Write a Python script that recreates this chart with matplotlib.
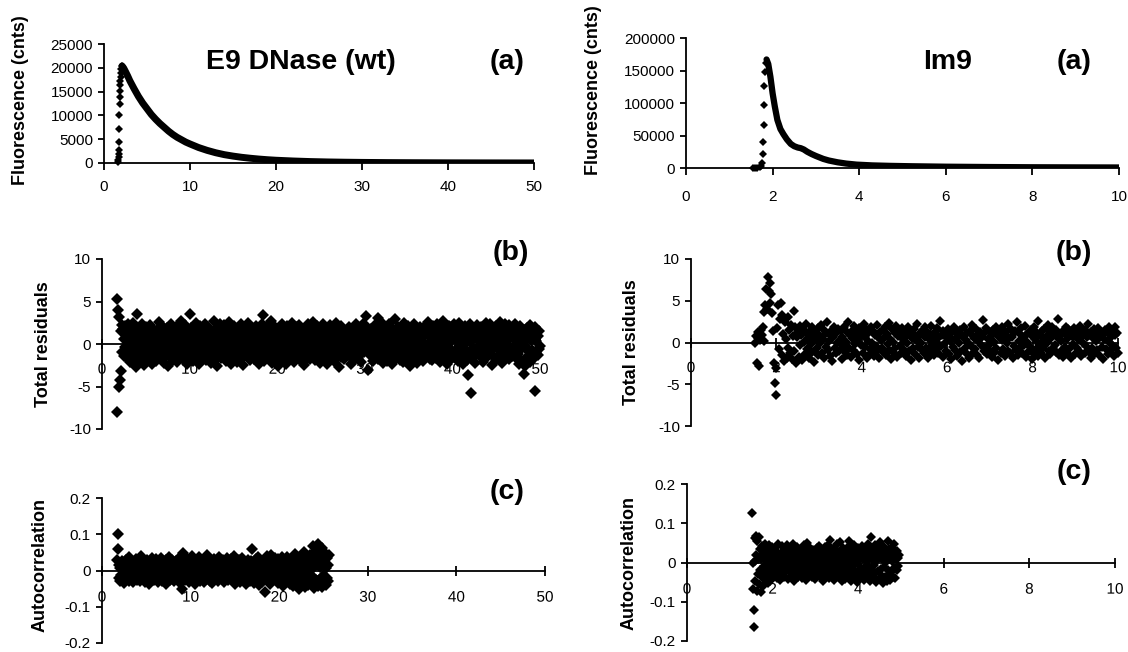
import numpy as np
import matplotlib
matplotlib.use("Agg")
import matplotlib.pyplot as plt
import matplotlib.patheffects as pe

plt.rcParams["font.family"] = ["Liberation Sans", "DejaVu Sans"]
plt.rcParams["axes.unicode_minus"] = False

# ---- E9 DNase (wt): fluorescence decay (time in ns, counts) ----
e9_rise_t = [1.66, 1.68, 1.70, 1.72, 1.74, 1.76, 1.78, 1.80, 1.82, 1.84, 1.86, 1.88, 1.90, 1.93, 1.96, 2.00, 2.05]
e9_rise_counts = [140, 560, 1190, 1950, 2800, 4330, 7120, 10050, 12430, 13960, 15200, 16300, 17300,
                  18150, 19000, 19700, 20300]
e9_decay_t = [2.1, 2.3, 2.5, 2.75, 3.0, 3.5, 4.0, 4.5, 5.0, 5.5, 6.0, 6.5, 7.0, 7.5, 8.0, 8.5, 9.0, 9.5,
              10, 11, 12, 13, 14, 15, 16, 17, 18, 19, 20, 22, 24, 26, 28, 30, 33, 36, 40, 45, 50]
e9_decay_counts = [20400, 19900, 19200, 18300, 17300, 15600, 14000, 12600, 11400, 10200, 9200, 8300,
                   7500, 6700, 6000, 5400, 4900, 4400, 4000, 3250, 2650, 2150, 1750, 1450, 1200, 1000,
                   830, 690, 580, 420, 300, 220, 165, 125, 85, 60, 38, 22, 12]

# ---- Im9: fluorescence decay ----
im9_rise_t = [1.55, 1.60, 1.65, 1.70, 1.74, 1.76, 1.77, 1.78, 1.79, 1.80, 1.81, 1.82, 1.84]
im9_rise_counts = [0, 0, 500, 1500, 3500, 7300, 21800, 40000, 66000, 97000, 125700, 147500, 162000]
im9_decay_t = [1.86, 1.9, 1.95, 2.0, 2.05, 2.11, 2.18, 2.25, 2.33, 2.42, 2.5, 2.58, 2.65, 2.72, 2.8,
               2.9, 3.0, 3.17, 3.3, 3.5, 3.7, 3.94, 4.3, 4.7, 5.2, 6, 7, 8, 9, 10]
im9_decay_counts = [167000, 160000, 140000, 115000, 95000, 74000, 60000, 52000, 44000, 37000, 33500,
                    31500, 30500, 28500, 25000, 21500, 18500, 14000, 11500, 8800, 6800, 5200, 4000,
                    3300, 2700, 2000, 1500, 1150, 950, 800]

# ---- weighted residuals (tenths), channels from start to end time ----
e9_resid_span = (1.7, 50.0)
e9_resid = [
    53, -80, 40, -50, 32, -42, -32, 15, 22, -9, 18, -14, 6, 21, -3, 11, -17, 8, 24, -6, 13, -21, 2, 16, -11,
    7, -19, 25, -4, 12, -8, 19, -27, 35, 3, -13, 9, -22, 14, 0, 17, -7, 23, -16, 5, -25, 10, -2, 20, -12,
    4, 15, -18, 8, -5, 22, -10, 13, -24, 1, 18, -15, 6, -1, 11, -20, 16, -7, 9, 26, -13, 3, -9, 14, -17,
    21, -4, 7, -22, 12, 0, -14, 19, -6, 10, -26, 17, 2, -11, 24, -8, 5, -19, 15, -3, 8, -16, 20, -10, 1,
    -21, 13, 6, -7, 18, -13, 27, -2, 11, -18, 4, 16, -9, 22, -5, 9, -23, 14, 0, -12, 35, -15, 7, 19, -6,
    12, -20, 3, 17, -10, 25, -1, -14, 10, 6, -24, 15, -4, 21, -8, 2, 18, -17, 11, -2, 23, -11, 5, -19, 13,
    -7, 20, 0, -15, 9, 16, -22, 4, 12, -9, 27, -5, 14, -18, 7, -26, 19, -3, 10, -13, 24, 1, -16, 8, 15,
    -11, 3, 22, -6, 17, -20, 11, -1, 6, -14, 26, -8, 13, 2, -23, 18, -4, 9, -17, 21, -10, 15, -2, 5, -21,
    14, -12, 19, -5, 8, 23, -16, 1, 12, -25, 16, -7, 4, 20, -13, 10, -3, 25, -9, 7, -19, 13, 0, 17, -15,
    -8, 11, -18, 6, 21, -4, 15, -11, 2, -24, 18, -6, 9, -15, 23, -1, 12, 34, -20, 7, 16, -10, 3, -17, 22,
    -5, 13, -13, 8, 27, -9, 4, -22, 17, -2, 10, -16, 20, 1, -7, 14, -26, 9, -12, 19, -4, 6, 24, -14, 11,
    -19, 3, 16, -8, 12, -23, 21, -3, 7, -11, 18, 0, -17, 13, -6, 25, -10, 5, -21, 15, 2, -13, 20, -5, 9,
    -15, 22, -1, 11, -20, 6, 17, -9, 14, -25, 3, 19, -12, 8, -4, 23, -16, 10, 1, -18, 16, -7, 12, -2, 26,
    -11, 5, -19, 18, -6, 9, 21, -14, 2, 15, -22, 12, -3, 7, -17, 24, -8, 13, -1, 20, -13, 4, -24, 17, -10,
    10, -4, 22, -16, 6, 14, -9, 1, 19, -20, 11, -6, 25, -12, 3, 16, -2, -27, 8, 13, -15, 21, -7, 5, 18,
    -18, 12, -1, 9, 15, -10, 15, -10, 4, 20, -14, 7, -23, 17, -5, 11, 2, -19, 14, -8, 23, -3, 10, -16, 6,
    19, -12, 3, 16, -21, 8, -4, 24, -9, 13, 0, 33, 21, -6, 10, -30, 15, 1, -13, 7, 18, -10, 5, -20, 12,
    -2, 22, -15, 9, 14, -7, 31, -18, 4, 17, -11, 26, -3, 8, -22, 13, -5, 19, -14, 2, 11, -20, 16, -8, 6,
    23, -13, 10, -1, 18, -24, 7, 15, -9, 3, 29, -16, 12, -6, 20, -11, 5, -19, 17, 0, -4, 14, -21, 9, 25,
    -10, 6, 16, -18, 11, -3, 21, -14, 2, 13, -26, 8, 19, -7, 4, -17, 24, -12, 15, -1, 10, -22, 18, -5, 7,
    -15, 20, -8, 12, 3, -20, 17, -2, 9, -12, 22, -13, 14, -6, 26, -10, 1, 16, -18, 11, -19, 6, 21, -4, 13,
    -9, 18, -16, 7, 24, -11, 2, 15, -21, 10, -5, 19, -13, 4, 27, -8, 12, -18, 1, 16, -24, 9, -3, 21, -10,
    14, -6, 20, -17, 5, 11, -15, 23, -8, 8, 17, -12, 3, -20, 13, -2, 25, -9, 6, 18, -14, 10, -23, 15, 0,
    21, -7, 12, -19, 4, -37, 16, -11, 24, 2, -58, 9, -16, 19, -5, 11, -22, 7, 14, -13, 22, -3, 17, -9, 5,
    -14, 8, 20, -6, 13, -21, 3, 16, -10, 25, -17, 10, -1, 18, -12, 6, 23, -8, 11, -25, 15, -4, 19, -15, 2,
    12, -19, 21, -5, 9, 16, -13, 4, 26, -9, 14, -22, 7, 19, -2, 11, -16, 23, -7, 3, 17, -11, 22, -18, 8,
    -3, 15, -14, 10, 20, -8, 6, -8, 24, -17, 13, 1, -12, 18, -24, 9, 21, -6, 14, -20, 4, 17, -35, 11, -26,
    16, -4, 19, -15, 7, 13, -9, 22, -21, 5, 18, -7, 10, -18, 14, -55, 20, -11, 3, 17, -13, 9, -6, 15, -2,
]

im9_resid_span = (1.5, 10.0)
im9_resid = [
    0, 8, -25, 5, 12, -28, 3, 15, 9, 18, 2, 36, 45, 64, 40, 78, 62, 71, 47, 58, 35, 14, -25, -48, -63,
    -30, 17, 45, -8, 28, 47, -15, 33, 10, -22, 25, 4, -18, 30, -6, 15, -12, 21, -20, 8, 38, -10, 19, -24, 6,
    13, -17, 20, -3, 9, -21, 16, 1, -14, 11, 22, -8, 5, -19, 14, -2, 18, -11, 7, -23, 12, 3, -6, 17, -15,
    9, -1, 21, -12, 4, 15, -18, 10, -5, 25, -9, 2, 13, -16, 8, -22, 6, 19, -7, 11, -13, 0, 16, -10, 3,
    14, -20, 7, -4, 18, -11, 1, 12, -15, 24, -6, 9, -17, 5, 15, -9, 20, -2, 10, -14, 4, 17, -21, 8, -3,
    11, -13, 22, -5, 6, 16, -19, 2, 13, -8, 19, -12, 0, 14, -16, 9, -4, 21, -10, 7, -18, 12, 3, -7, 15,
    -11, 5, 18, -15, 10, -2, 23, -9, 4, -20, 16, 1, -13, 11, -6, 20, -17, 8, 13, -4, 6, -12, 17, -8, 2,
    12, -16, 9, -1, 19, -10, 14, -21, 5, 10, -7, 16, -14, 3, 22, -5, 8, -18, 11, 0, -9, 15, -13, 7, 18,
    -6, 13, -19, 4, 10, -11, 20, -3, 7, -15, 12, 1, -8, 17, -12, 6, 26, -4, 9, -17, 14, -2, 11, -10, 5,
    16, -14, 8, 2, -20, 12, -5, 18, -9, 4, 13, -16, 7, -1, 15, -11, 10, -22, 6, 19, -7, 3, -13, 11, 0,
    -18, 14, -4, 9, 21, -12, 5, -8, 16, -15, 10, 2, -19, 13, -3, 7, 27, -10, 11, -6, 17, -14, 4, -9, 12,
    -2, 8, -17, 15, 1, -11, 19, -6, 10, -21, 6, 14, -13, 3, 18, -8, 9, -16, 12, -1, 22, -10, 5, -12, 16,
    7, -19, 11, -4, 14, -9, 24, -15, 2, 10, -7, 17, -12, 6, -3, 20, -17, 9, 1, -11, 13, -5, 15, -20, 8,
    -13, 18, 4, -8, 11, -16, 26, -2, 9, -12, 14, -6, 3, 16, -18, 7, -1, 21, -10, 12, -14, 5, 19, -7, 10,
    -3, 15, -11, 6, 28, -15, 8, 2, -9, 13, -17, 11, -5, 18, -12, 4, 16, -8, 9, -19, 12, -2, 7, 17, -14,
    10, -6, 14, -10, 3, 20, -16, 8, -1, 12, -13, 15, -4, 6, 22, -11, 9, -18, 13, -7, 5, 16, -12, 2, 11,
    -9, 17, -15, 7, 13, -5, 10, -20, 4, 15, -8, 12, -14, 1, 19, -10, 6, -3, 14, -16, 9, 18, -6, 11, -12,
]

# ---- autocorrelation of residuals (thousandths) ----
e9_acf_span = (1.7, 25.6)
e9_acf = [
    28, 100, 60, 15, -22, 8, -30, 20, -12, 3, 25, -18, 10, -35, 14, -5, 30, -25, 6, -14, 22, -9, 38, -28, 12,
    -3, 18, -20, 7, 27, -33, 11, -8, 21, -16, 2, 32, -26, 13, -11, 24, -4, 9, -29, 17, 40, -19, 5, -13, 26,
    -7, 15, -31, 10, 19, -21, 1, 29, -15, 12, -36, 23, -6, 8, -24, 16, 35, -10, 4, -27, 20, -2, 13, -17, 31,
    -12, 6, -33, 25, 9, -20, 17, -5, 34, -28, 11, -14, 22, 3, -23, 14, -9, 28, -38, 18, 7, -16, 36, -1, 10,
    -25, 21, -11, 5, 30, -19, 13, -30, 19, 2, -13, 26, -22, 9, -6, 33, -17, 15, -34, 8, 24, -8, -50, 16, -15,
    48, -4, 11, -27, 22, 4, -18, 31, -10, 14, -32, 6, 27, -21, 17, -3, 39, -14, 10, -26, 20, 0, -37, 23, -9,
    12, -20, 29, -12, 5, 36, -29, 18, -7, 13, 25, -16, 8, -31, 21, -1, 30, -23, 15, -10, 44, -19, 7, -5, 17,
    -28, 24, -13, 10, -35, 19, 2, 32, -17, 12, -8, 27, -24, 6, 16, -30, 22, -4, 37, -15, 9, -21, 14, -11, 28,
    -2, 20, -33, 11, 26, -18, 7, -9, 34, -25, 15, -6, 23, -14, 3, 31, -27, 12, -19, 18, 41, -12, 8, -36, 24,
    -7, 16, -22, 9, 29, -16, 5, -31, 21, -3, 13, 35, -20, 10, -28, 25, -10, 17, -38, 14, 2, 30, -24, 19, -13,
    8, -29, 27, -6, 15, 58, -19, 11, -34, 22, 4, -14, 33, -26, 18, -9, 37, -40, 12, -17, 26, -4, 9, -32, 20,
    -11, 30, -23, 14, -60, 6, 24, -15, 39, -30, 10, -8, 28, -37, 19, -2, 42, -21, 13, -27, 21, -12, 7, 34, -18,
    16, -25, 5, 31, -35, 11, -5, 25, -28, 18, -13, 38, -42, 9, 22, -19, 3, 29, -33, 14, -9, 36, -24, 8, -16,
    27, -38, 13, -4, 33, -22, 17, -44, 10, 24, -11, 45, -30, 6, -20, 32, -14, 19, -52, 11, 28, -27, 15, -7, 40,
    -33, 20, -17, 50, -45, 12, 26, -24, 8, 35, -40, 16, -9, 44, -28, 22, -36, 5, 30, -18, 68, -47, 14, 38, -25,
    55, -30, 18, -42, 72, 25, -38, 10, 46, -20, 32, -45, 62, -15, 28, -35, 20, 48, -40, 8, -22, 35, -28, 15, 42,
]

im9_acf_span = (1.52, 4.95)
im9_acf = [
    127, 0, -67, -120, -165, 5, 62, -48, 68, 20, -72, 55, -30, 10, 65, -55, 35, -20, -75, 8, 42, -38, 25, -60, 15,
    -10, 48, -45, 30, -25, 5, 38, -52, 18, -8, 45, -35, 22, -15, 2, 40, -42, 12, 28, -30, 8, -20, 35, -5, 15,
    -40, 25, -12, 48, -28, 10, -45, 20, 3, -18, 42, -32, 14, 30, -8, -38, 22, 6, -25, 36, -15, 45, -2, 18, -42,
    28, -22, 10, 38, -35, 4, 24, -12, 46, -28, 16, -48, 8, 32, -20, 12, -5, 40, -38, 20, 2, -30, 27, -14, 35,
    -8, 15, -40, 22, -18, 44, -3, 30, -26, 10, -45, 18, 50, -15, 6, -32, 26, -10, 38, -22, 14, 0, -36, 20, -6,
    33, -24, 12, -42, 28, 5, -16, 36, -30, 18, -4, 42, -20, 8, 25, -38, 15, -10, 30, -46, 22, 2, -28, 40, -12,
    16, -35, 26, -6, 44, -22, 10, -40, 20, 58, -18, 4, 32, -28, 14, -8, 38, -44, 22, 6, -25, 30, -14, 46, -32,
    12, -4, 28, -38, 18, 52, -20, 8, -48, 24, -10, 36, -26, 14, 2, -42, 30, -16, 20, -34, 10, 40, -22, 55, -8,
    24, -46, 15, -12, 34, -28, 6, 44, -18, 22, -36, 12, 30, -50, 18, -4, 38, -24, 10, 26, -40, 16, -14, 42, -30,
    8, 32, -20, 20, -44, 14, 36, -10, 28, -32, 4, 48, -26, 16, -12, 40, -48, 22, 64, -18, 10, 30, -36, 18, -6,
    44, -28, 12, -50, 26, 6, 36, -22, 20, -42, 14, 52, -16, 30, -34, 8, -52, 24, 40, -12, 18, -38, 28, 2, -46,
    22, 56, -20, 34, -30, 14, -44, 26, 10, -24, 38, 4, -36, 20, 46, -14, 28, -40, 16, 8, -18, 30, 12, -8, 18,
]

W, H = 1128, 652
fig = plt.figure(figsize=(W / 100, H / 100), dpi=100)

TICK_FS = 11
LAB_FS = 13
BIG_FS = 20.5


def px_axes(x0, x1, ytop, ybot):
    return fig.add_axes([x0 / W, 1 - ybot / H, (x1 - x0) / W, (ybot - ytop) / H])


def style(ax, xlim, xticks, ylim, yticks, zero_axis, xpad=7):
    ax.set_xlim(*xlim)
    ax.set_ylim(*ylim)
    ax.set_xticks(xticks)
    ax.set_yticks(yticks)
    ax.patch.set_alpha(0)
    for s in ("top", "right"):
        ax.spines[s].set_visible(False)
    for s in ("left", "bottom"):
        ax.spines[s].set_linewidth(1.3)
    ax.tick_params(axis="y", direction="out", length=4, width=1.3, pad=4, labelsize=TICK_FS)
    if zero_axis:
        ax.spines["bottom"].set_position(("data", 0))
        ax.tick_params(axis="x", direction="inout", length=7, width=1.3, pad=xpad, labelsize=TICK_FS)
        for lab in ax.get_xticklabels():
            lab.set_path_effects([pe.withStroke(linewidth=2, foreground="white")])
    else:
        ax.tick_params(axis="x", direction="out", length=5, width=1.3, pad=xpad, labelsize=TICK_FS)


def channels(span, values):
    return np.linspace(span[0], span[1], len(values))


def dots(ax, x, y, ms=3.6):
    ax.plot(x, y, "D", ms=ms, mew=0, color="black", clip_on=False)


# (a) decays
ax = px_axes(104, 534, 44, 163)
style(ax, (0, 50), range(0, 51, 10), (0, 25000), range(0, 25001, 5000), False, xpad=7)
ax.plot(e9_decay_t, e9_decay_counts, "-", lw=5, color="black", solid_capstyle="round")
dots(ax, e9_rise_t, e9_rise_counts, ms=3.8)

ax = px_axes(686, 1119, 38, 168)
style(ax, (0, 10), range(0, 11, 2), (0, 200000), range(0, 200001, 50000), False, xpad=11)
ax.plot(im9_decay_t, im9_decay_counts, "-", lw=4.5, color="black", solid_capstyle="round")
dots(ax, im9_rise_t, im9_rise_counts, ms=3.8)

# (b) residuals
ax = px_axes(102, 540, 259, 429)
style(ax, (0, 50), range(0, 51, 10), (-10, 10), range(-10, 11, 5), True, xpad=10)
dots(ax, channels(e9_resid_span, e9_resid), np.array(e9_resid) / 10, ms=6.4)

ax = px_axes(691, 1118, 259, 426)
style(ax, (0, 10), range(0, 11, 2), (-10, 10), range(-10, 11, 5), True, xpad=10)
dots(ax, channels(im9_resid_span, im9_resid), np.array(im9_resid) / 10, ms=4.8)

# (c) autocorrelation
ax = px_axes(102, 545, 498, 643)
style(ax, (0, 50), range(0, 51, 10), (-0.2, 0.2), [-0.2, -0.1, 0, 0.1, 0.2], True, xpad=11)
ax.set_yticklabels(["-0.2", "-0.1", "0", "0.1", "0.2"])
dots(ax, channels(e9_acf_span, e9_acf), np.array(e9_acf) / 1000, ms=6.0)

ax = px_axes(687, 1115, 484, 641)
style(ax, (0, 10), range(0, 11, 2), (-0.2, 0.2), [-0.2, -0.1, 0, 0.1, 0.2], True, xpad=11)
ax.set_yticklabels(["-0.2", "-0.1", "0", "0.1", "0.2"])
dots(ax, channels(im9_acf_span, im9_acf), np.array(im9_acf) / 1000, ms=4.6)

# labels
def ftext(x, y, s, **kw):
    fig.text(x / W, 1 - y / H, s, ha="center", va="center", fontweight="bold", **kw)

ftext(21, 100, "Fluorescence (cnts)", rotation=90, fontsize=LAB_FS)
ftext(594, 90, "Fluorescence (cnts)", rotation=90, fontsize=LAB_FS)
ftext(43, 344, "Total residuals", rotation=90, fontsize=LAB_FS)
ftext(631, 342, "Total residuals", rotation=90, fontsize=LAB_FS)
ftext(40, 565, "Autocorrelation", rotation=90, fontsize=LAB_FS)
ftext(629, 563, "Autocorrelation", rotation=90, fontsize=LAB_FS)

ftext(301, 62, "E9 DNase (wt)", fontsize=BIG_FS)
ftext(507, 62, "(a)", fontsize=BIG_FS)
ftext(948, 62, "Im9", fontsize=BIG_FS)
ftext(1074, 62, "(a)", fontsize=BIG_FS)
ftext(511, 253, "(b)", fontsize=BIG_FS)
ftext(1074, 253, "(b)", fontsize=BIG_FS)
ftext(507, 492, "(c)", fontsize=BIG_FS)
ftext(1074, 472, "(c)", fontsize=BIG_FS)

fig.savefig("out.png", dpi=100)
